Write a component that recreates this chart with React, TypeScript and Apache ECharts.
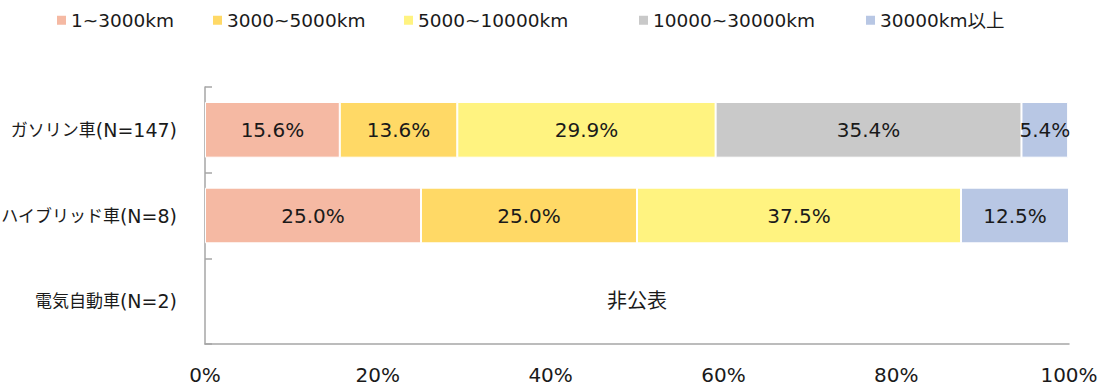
import React, { useEffect, useRef } from "react";
import * as echarts from "echarts";

// Vehicle types (top to bottom)
const categories = ["ガソリン車(N=147)", "ハイブリッド車(N=8)", "電気自動車(N=2)"];

// Distance bands
const bands = ["1~3000km", "3000~5000km", "5000~10000km", "10000~30000km", "30000km以上"];
const bandColors = ["#F5B9A3", "#FFD966", "#FFF380", "#C9C9C9", "#B8C7E4"];

// Share (%) per band; electric vehicles are not disclosed
const band1 = [15.6, 25.0, null];
const band2 = [13.6, 25.0, null];
const band3 = [29.9, 37.5, null];
const band4 = [35.4, null, null];
const band5 = [5.4, 12.5, null];
const seriesValues = [band1, band2, band3, band4, band5];

const undisclosedLabel = "非公表";
const undisclosedCategory = categories[2];

const xTicks = [0, 20, 40, 60, 80, 100];

// Legend item left positions
const legendLefts = [55, 211, 402, 637, 864];

const FONT = "'DejaVu Sans', 'Noto Sans CJK JP', sans-serif";
const TEXT = "#1a1a1a";
const AXIS = "#a6a6a6";

export default function App() {
  const ref = useRef<HTMLDivElement>(null);

  useEffect(() => {
    if (!ref.current) return;
    const chart = echarts.init(ref.current, undefined, { renderer: "svg" });

    const series: any[] = bands.map((name, i) => ({
      name,
      type: "bar",
      stack: "total",
      barWidth: "65%",
      data: seriesValues[i],
      itemStyle: { color: bandColors[i], borderColor: "#ffffff", borderWidth: 1 },
      label: {
        show: true,
        position: "inside",
        color: TEXT,
        fontFamily: FONT,
        fontSize: 20,
        formatter: (p: any) =>
          p.value == null || p.value === 0 ? "" : `${Number(p.value).toFixed(1)}%`,
      },
      emphasis: { disabled: true },
    }));

    series[0].markPoint = {
      symbol: "rect",
      symbolSize: 1,
      itemStyle: { color: "rgba(0,0,0,0)" },
      label: {
        show: true,
        position: "inside",
        formatter: undisclosedLabel,
        color: TEXT,
        fontFamily: FONT,
        fontSize: 20,
      },
      data: [{ coord: [50, undisclosedCategory] }],
    };

    const legends = bands.map((name, i) => ({
      data: [name],
      left: legendLefts[i],
      top: 11,
      padding: 0,
      itemWidth: 11,
      itemHeight: 11,
      itemGap: 6,
      icon: "rect",
      selectedMode: false,
      textStyle: { color: TEXT, fontFamily: FONT, fontSize: 18.5, padding: [0, 0, 0, -1] },
    }));

    // Category label: vehicle name and sample size in separate text styles
    const categoryLabel = (value: string) => {
      const cut = value.indexOf("(");
      return `{n|${value.slice(0, cut)}}{c|${value.slice(cut)}}`;
    };

    chart.setOption({
      animation: false,
      legend: legends,
      grid: {
        left: 205,
        right: 38,
        top: 87,
        bottom: 44,
        containLabel: false,
        outerBoundsMode: "none",
      },
      xAxis: {
        type: "value",
        min: xTicks[0],
        max: xTicks[xTicks.length - 1],
        interval: xTicks[1] - xTicks[0],
        axisLine: { show: true, lineStyle: { color: AXIS, width: 1.5 } },
        axisTick: { show: false },
        splitLine: { show: false },
        axisLabel: {
          color: TEXT,
          fontFamily: FONT,
          fontSize: 20,
          margin: 21,
          formatter: "{value}%",
        },
      },
      yAxis: {
        type: "category",
        inverse: true,
        data: categories,
        axisLine: { show: true, lineStyle: { color: AXIS, width: 1.5 } },
        axisTick: { show: true, inside: true, length: 7, lineStyle: { color: AXIS, width: 1.5 } },
        axisLabel: {
          margin: 28,
          formatter: categoryLabel,
          rich: {
            n: { color: TEXT, fontFamily: FONT, fontSize: 17 },
            c: { color: TEXT, fontFamily: FONT, fontSize: 19 },
          },
        },
      },
      series,
    });

    return () => chart.dispose();
  }, []);

  return (
    <div
      ref={ref}
      style={{ position: "fixed", left: 0, top: 0, width: 1107, height: 388, background: "#ffffff" }}
    />
  );
}
